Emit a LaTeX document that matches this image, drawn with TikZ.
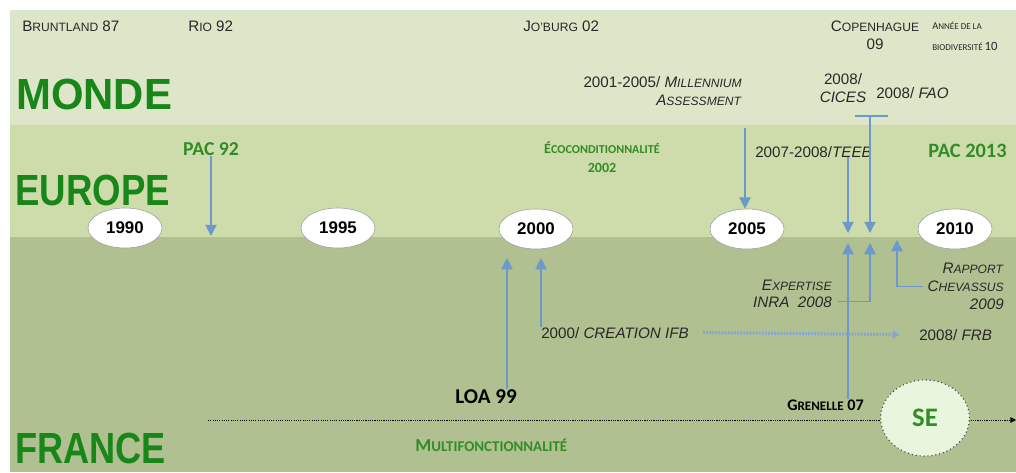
\documentclass[tikz,border=0pt]{standalone}
\usepackage{fontspec}
\setmainfont{Liberation Sans}
\newfontfamily\carl{Carlito}
\usetikzlibrary{arrows.meta, positioning, shapes.geometric}

\definecolor{bandmonde}{RGB}{221,230,200}
\definecolor{bandeurope}{RGB}{206,220,172}
\definecolor{bandfrance}{RGB}{177,192,144}
\definecolor{titlegreen}{RGB}{24,134,24}
\definecolor{softgreen}{RGB}{50,140,40}
\definecolor{labelgray}{RGB}{40,40,40}
\definecolor{arrowblue}{RGB}{108,152,204}
\definecolor{sefill}{RGB}{232,246,222}

% small capitals made by hand
\newcommand\capsm[2]{#1{\fontsize{8.6}{10}\selectfont #2}}

\tikzstyle{every picture} = [x=0.025cm, y=-0.025cm]
\tikzstyle{region} = [inner sep=0pt, anchor=base west, text=titlegreen, font=\fontsize{31}{31}\selectfont\bfseries]
\tikzstyle{lbl} = [inner sep=0pt, text=labelgray, font=\fontsize{10.8}{12.8}\selectfont]
\tikzstyle{greenlbl} = [inner sep=0pt, text=softgreen, font=\carl\bfseries]
\tikzstyle{year} = [ellipse, draw=gray!75, fill=white, minimum width=1.85cm, minimum height=1.0cm, inner sep=0pt, font=\fontsize{12}{12}\selectfont\bfseries]
\tikzstyle{arr} = [draw=arrowblue, line width=0.9pt, -{Triangle[width=8pt,length=8pt]}]
\tikzstyle{link} = [draw=arrowblue, line width=0.9pt]

\begin{document}
\begin{tikzpicture}
\useasboundingbox (0,0) rectangle (1016,472);

% bands
\fill[bandmonde] (10,10) rectangle (1016,125);
\fill[bandeurope] (10,125) rectangle (1016,237);
\fill[bandfrance] (10,237) rectangle (1016,472);

% regions
\node (monde) [region] at (16,110) {\scalebox{0.96}[1]{MONDE}};
\node (europe) [region] at (15,205) {\scalebox{0.84}[1]{EUROPE}};
\node (france) [region] at (15,463) {\scalebox{0.83}[1]{FRANCE}};

% world events
\node (bruntland) [lbl, anchor=base west] at (22,32) {\capsm{B}{RUNTLAND} 87};
\node (rio) [lbl, anchor=base west] at (188,32) {\capsm{R}{IO} 92};
\node (joburg) [lbl, anchor=base west] at (523,32) {\capsm{J}{O'BURG} 02};
\node (copenhague) [lbl, align=center, anchor=north] at (875,21) {\capsm{C}{OPENHAGUE}\\09};
\node (annee) [inner sep=0pt, text=labelgray, align=left, anchor=north west, font=\carl\fontsize{6.4}{15}\selectfont] at (932,22) {{\fontsize{7.4}{8}\selectfont A}NNÉE DE LA\\ BIODIVERSITÉ {\fontsize{9}{9}\selectfont 10}};
\node (millennium) [lbl, align=right, anchor=north east] at (742,76) {2001-2005/ \textit{\capsm{M}{ILLENNIUM}}\\\textit{\capsm{A}{SSESSMENT}}};
\node (cices) [lbl, align=center, anchor=north] at (843,73) {2008/\\\textit{CICES}};
\node (fao) [lbl, anchor=base west] at (876,99) {2008/ \textit{FAO}};

% europe
\node (pac 92) [greenlbl, anchor=base, font=\carl\bfseries\fontsize{14}{14}\selectfont] at (211,156) {PAC 92};
\node (ecocond) [greenlbl, align=center, anchor=north, font=\carl\bfseries\fontsize{10}{14}\selectfont] at (602,141) {É{\fontsize{8.6}{10}\selectfont COCONDITIONNALITÉ}\\2002};
\node (teeb) [lbl, anchor=base west] at (755,157) {2007-2008/\textit{TEEB}};
\node (pac 2013) [greenlbl, anchor=base west, font=\carl\bfseries\fontsize{14.5}{14}\selectfont] at (928,157) {PAC 2013};

% years
\node (y 1990) [year] at (125,228) {1990};
\node (y 1995) [year] at (338,228) {1995};
\node (y 2000) [year] at (536,229) {2000};
\node (y 2005) [year] at (747,229) {2005};
\node (y 2010) [year] at (955,229) {2010};

% france
\node (expertise) [lbl, anchor=base east] at (832,290) {\textit{\capsm{E}{XPERTISE}}};
\node (inra) [lbl, anchor=base east] at (832,307) {\textit{INRA~ 2008}};
\node (rapport) [lbl, align=right, anchor=north east] at (1004,263) {\textit{\capsm{R}{APPORT}}\\\textit{\capsm{C}{HEVASSUS}}\\\textit{2009}};
\node (ifb) [lbl, anchor=base west] at (541,338) {2000/ \textit{CREATION IFB}};
\node (frb) [lbl, anchor=base west] at (919,340) {2008/ \textit{FRB}};
\node (loa 99) [inner sep=0pt, anchor=base, text=black, font=\carl\bfseries\fontsize{15}{15}\selectfont] at (486,403) {LOA 99};
\node (grenelle) [inner sep=0pt, anchor=base west, text=black, font=\carl\bfseries\fontsize{11.5}{11}\selectfont] at (787,410) {G{\fontsize{9.3}{10}\selectfont RENELLE} 07};
\node (multi) [greenlbl, anchor=base west, font=\carl\bfseries\fontsize{13}{13}\selectfont] at (415,451) {M{\fontsize{10.6}{11}\selectfont ULTIFONCTIONNALITÉ}};

% arrow ends
\coordinate (tip pac) at (211,236);
\coordinate (mill start) at (745,128);
\coordinate (tip teeb) at (848,233);
\coordinate (bar l) at (855,116);
\coordinate (bar r) at (888,116);
\coordinate (tip fao) at (870,233);
\coordinate (tip loa) at (507,258);
\coordinate (tip ifb) at (541,258);
\coordinate (tip gren) at (848,243);
\coordinate (tip exp) at (870,243);
\coordinate (tip rap) at (897,240);
\coordinate (line start) at (208,420);
\coordinate (line end) at (1016,420);

\draw[arr] (pac 92) -- (tip pac);
\draw[arr] (mill start) -- (mill start |- y 2005.north);
\draw[arr] (teeb.south -| tip teeb) -- (tip teeb);
\draw[link] (bar l) -- (bar r);
\draw[arr] (bar l -| tip fao) -- (tip fao);
\draw[arr] (loa 99.north -| tip loa) -- (tip loa);
\draw[arr] (ifb.north west) -- (tip ifb);
\draw[arr] (grenelle.north -| tip gren) -- (tip gren);
\draw[arr] ([xshift=4pt]inra.east) -| (tip exp);
\draw[arr] ([xshift=-3pt]rapport.west) -| (tip rap);
\draw[draw=arrowblue!85, line width=2.2pt, dash pattern=on 1.3pt off 0.9pt, -{Triangle[width=6pt,length=4.5pt]}] ([xshift=10pt]ifb.east) -- ([xshift=-14pt]frb.west);

% timeline
\draw[black, line width=0.6pt, dash pattern=on 0.8pt off 0.8pt, -{Triangle[width=4pt,length=4pt]}] (line start) -- (line end);
\node (se) [ellipse, draw=black!70, dotted, line width=0.8pt, fill=sefill, minimum width=2.22cm, minimum height=1.9cm, text=softgreen, font=\carl\bfseries\fontsize{19}{19}\selectfont] at (925,418) {SE};

\end{tikzpicture}
\end{document}
